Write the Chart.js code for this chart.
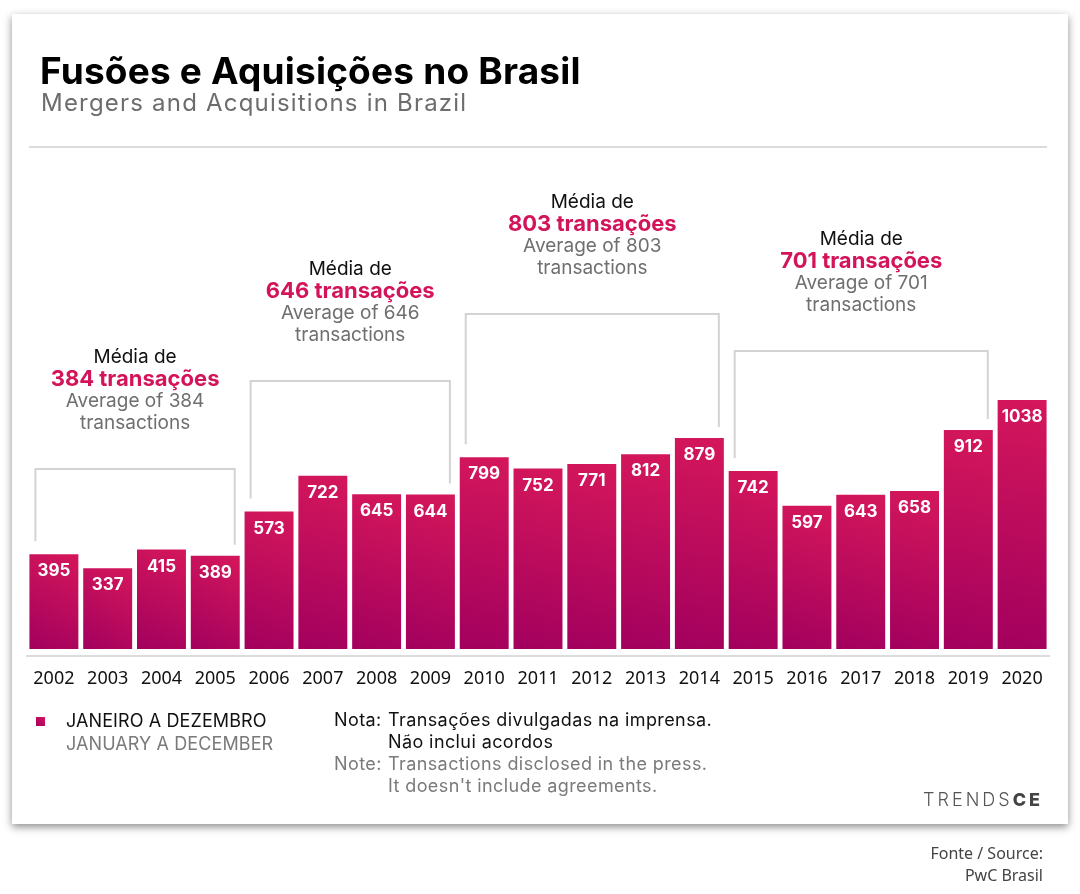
<!DOCTYPE html>
<html>
<head>
<meta charset="utf-8">
<script src="https://cdn.jsdelivr.net/npm/chart.js@4.4.1/dist/chart.umd.min.js"></script>
<style>
  html, body { margin: 0; padding: 0; background: #fff; }
  body { width: 1080px; height: 894px; position: relative; overflow: hidden; font-family: Inter, "Noto Sans", sans-serif; }
  #card { position: absolute; left: 12px; top: 14px; width: 1056px; height: 810px; background: #fff;
          box-shadow: 0 3px 8px rgba(0,0,0,0.45); }
  #wrap { position: absolute; left: 0; top: 0; width: 1080px; height: 894px; z-index: 1; }
  .t { position: absolute; z-index: 2; white-space: nowrap; line-height: 1; }
  #title { left: 40px; top: 52px; font-size: 37px; font-weight: 700; color: #000; letter-spacing: 0.2px; }
  #subtitle { left: 41px; top: 91px; font-size: 24px; font-weight: 400; color: #6d6d6d; letter-spacing: 1.2px; }
  #sep { position: absolute; z-index: 2; left: 29px; top: 146px; width: 1018px; height: 2px; background: #dcdcdc; }
  #legbox { position: absolute; z-index: 2; left: 36px; top: 717px; width: 9px; height: 9px;
            background: linear-gradient(45deg, #a3005e, #d4165b); }
  .n { font-size: 18px; color: #111; letter-spacing: 0.4px; }
  .g { color: #7a7a7a; }
  #source { right: 37px; top: 842px; text-align: right; font-family: "Liberation Sans Narrow", "Noto Sans", sans-serif;
            font-size: 16px; color: #444; line-height: 22px; }
  #logo { right: 37px; top: 791px; font-size: 18px; letter-spacing: 3px; color: #555; font-weight: 300; }
  #logo b { font-weight: 800; color: #444; }
</style>
</head>
<body>
<div id="card"></div>
<div id="wrap"><canvas id="chart"></canvas></div>

<div class="t" id="title">Fusões e Aquisições no Brasil</div>
<div class="t" id="subtitle">Mergers and Acquisitions in Brazil</div>
<div id="sep"></div>

<div id="legbox"></div>
<div class="t n" style="left:66px; top:712px; letter-spacing:0.1px;">JANEIRO A DEZEMBRO</div>
<div class="t n g" style="left:66px; top:735px; letter-spacing:0.1px;">JANUARY A DECEMBER</div>

<div class="t n" style="left:334px; top:711px;">Nota:</div>
<div class="t n" style="left:388px; top:711px;">Transações divulgadas na imprensa.</div>
<div class="t n" style="left:388px; top:733px;">Não inclui acordos</div>
<div class="t n g" style="left:334px; top:755px;">Note:</div>
<div class="t n g" style="left:388px; top:755px;">Transactions disclosed in the press.</div>
<div class="t n g" style="left:388px; top:777px;">It doesn't include agreements.</div>

<div class="t" id="logo">TRENDS<b>CE</b></div>
<div class="t" id="source">Fonte / Source:<br>PwC Brasil</div>

<script>
// M&A deals per year, PwC Brasil
const years = ['2002', '2003', '2004', '2005', '2006', '2007', '2008', '2009', '2010', '2011',
               '2012', '2013', '2014', '2015', '2016', '2017', '2018', '2019', '2020'];
const deals = [395, 337, 415, 389, 573, 722, 645, 644, 799, 752,
               771, 812, 879, 742, 597, 643, 658, 912, 1038];

// periods with their average
const periodStart = [0, 4, 8, 13];
const periodEnd = [3, 7, 12, 17];
const periodAverage = [384, 646, 803, 701];

const crimson = '#d4145a';

function barGradient(c) {
    const chart = c.chart;
    const { ctx, chartArea, scales } = chart;
    if (!chartArea || c.type !== 'data') return '#c0105d';
    const x = scales.x.getPixelForValue(c.dataIndex);
    const top = scales.y.getPixelForValue(c.raw);
    const base = scales.y.getPixelForValue(0);
    const g = ctx.createLinearGradient(x + 25, top, x - 25, base);
    g.addColorStop(0, '#d5175b');
    g.addColorStop(1, '#a2005e');
    return g;
}

// values in white, inside the top of each bar
const barLabels = {
    id: 'barLabels',
    afterDatasetsDraw(chart) {
        const ctx = chart.ctx;
        const meta = chart.getDatasetMeta(0);
        ctx.save();
        ctx.fillStyle = '#fff';
        ctx.font = '700 17px Inter, sans-serif';
        ctx.textAlign = 'center';
        ctx.textBaseline = 'middle';
        meta.data.forEach((bar, i) => {
            ctx.fillText(String(deals[i]), bar.x, bar.y + 17);
        });
        ctx.restore();
    }
};

// brackets over each period with the average text
const periodNotes = {
    id: 'periodNotes',
    afterDatasetsDraw(chart, args, opts) {
        const ctx = chart.ctx;
        const meta = chart.getDatasetMeta(0);
        const y = chart.scales.y;
        ctx.save();
        periodStart.forEach((s, k) => {
            const e = periodEnd[k];
            const b0 = meta.data[s], b1 = meta.data[e];
            const left = b0.x - b0.width / 2 + 6;
            const right = b1.x + b1.width / 2 - 5;
            const top = y.getPixelForValue(opts.levels[k]);
            const legL = b0.y - 13;
            const legR = b1.y - 11;

            ctx.strokeStyle = '#d3d3d3';
            ctx.lineWidth = 2;
            ctx.beginPath();
            ctx.moveTo(left, legL);
            ctx.lineTo(left, top);
            ctx.lineTo(right, top);
            ctx.lineTo(right, legR);
            ctx.stroke();

            const cx = (left + right) / 2;
            ctx.textAlign = 'center';
            ctx.textBaseline = 'middle';
            ctx.fillStyle = '#111';
            ctx.font = '400 19px Inter, sans-serif';
            ctx.fillText('Média de', cx, top - 112);
            ctx.fillStyle = crimson;
            ctx.font = '700 22px Inter, sans-serif';
            ctx.fillText(periodAverage[k] + ' transações', cx, top - 90);
            ctx.fillStyle = '#6f6f6f';
            ctx.font = '400 19px Inter, sans-serif';
            ctx.fillText('Average of ' + periodAverage[k], cx, top - 68);
            ctx.fillText('transactions', cx, top - 46);
        });
        ctx.restore();
    }
};

const chart = new Chart(document.getElementById('chart').getContext('2d'), {
    type: 'bar',
    data: {
        labels: years,
        datasets: [{
            label: 'Janeiro a dezembro',
            data: deals,
            backgroundColor: barGradient,
            borderWidth: 0,
            barPercentage: 0.91,
            categoryPercentage: 1
        }]
    },
    options: {
        responsive: true,
        maintainAspectRatio: false,
        animation: false,
        layout: { padding: { left: 27, right: 31, top: 150, bottom: 198 } },
        plugins: {
            legend: { display: false },
            tooltip: { enabled: false },
            periodNotes: { levels: [750, 1117, 1396, 1242] }
        },
        scales: {
            x: {
                grid: { display: false, drawTicks: false },
                border: { display: true, color: '#dcdcdc', width: 2 },
                ticks: {
                    padding: 12,
                    color: '#111',
                    font: { family: '"Noto Sans", sans-serif', size: 18 }
                },
                afterFit: (scale) => { scale.height = 40; }
            },
            y: {
                display: false,
                min: -29,
                max: 2079
            }
        }
    },
    plugins: [barLabels, periodNotes]
});
</script>
</body>
</html>
